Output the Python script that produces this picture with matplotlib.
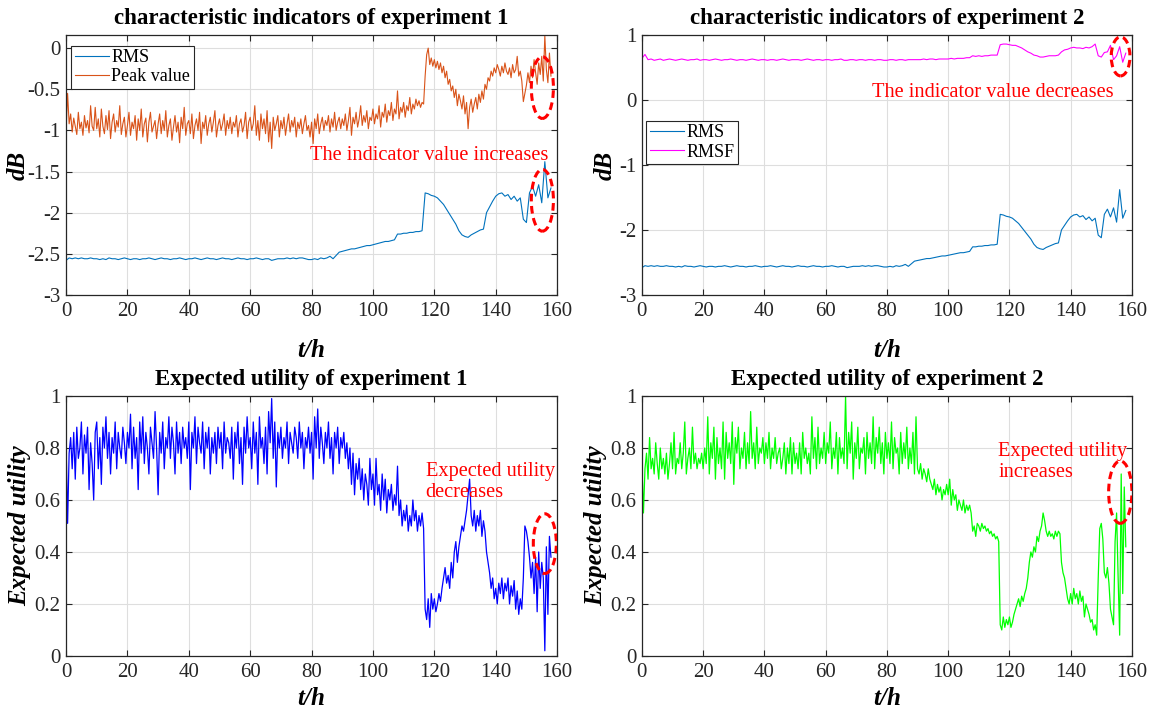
import matplotlib.pyplot as plt
import numpy as np
from matplotlib.patches import Ellipse

plt.rcParams['font.family'] = ['Liberation Serif', 'DejaVu Serif']
plt.rcParams['axes.unicode_minus'] = False

# sample times (hours)
t_half = np.arange(0, 158.5, 0.5)
t_hour = np.arange(0, 159, 1.0)

# RMS (same sensor in both experiments), 1 h steps
rms = [
    -2.58, -2.55, -2.56, -2.55, -2.56, -2.55, -2.56, -2.56, -2.55, -2.56,
    -2.56, -2.57, -2.56, -2.57, -2.55, -2.56, -2.56, -2.57, -2.56, -2.55,
    -2.56, -2.57, -2.56, -2.56, -2.57, -2.56, -2.56, -2.55, -2.56, -2.57,
    -2.56, -2.55, -2.56, -2.56, -2.57, -2.56, -2.56, -2.55, -2.56, -2.57,
    -2.56, -2.56, -2.55, -2.56, -2.57, -2.56, -2.55, -2.56, -2.56, -2.57,
    -2.56, -2.55, -2.56, -2.56, -2.57, -2.56, -2.55, -2.56, -2.56, -2.57,
    -2.56, -2.56, -2.55, -2.56, -2.57, -2.56, -2.56, -2.58, -2.57, -2.56,
    -2.56, -2.56, -2.55, -2.56, -2.55, -2.56, -2.55, -2.55, -2.56, -2.57,
    -2.57, -2.56, -2.57, -2.55, -2.56, -2.55, -2.53, -2.56, -2.52, -2.48,
    -2.47, -2.46, -2.45, -2.44, -2.44, -2.43, -2.42, -2.41, -2.40, -2.40,
    -2.39, -2.38, -2.37, -2.36, -2.35, -2.35, -2.34, -2.33, -2.26, -2.26,
    -2.25, -2.25, -2.24, -2.24, -2.23, -2.23, -2.22, -1.76, -1.77, -1.79,
    -1.80, -1.82, -1.86, -1.90, -1.96, -2.02, -2.08, -2.14, -2.22, -2.27,
    -2.29, -2.30, -2.27, -2.25, -2.23, -2.21, -2.20, -2.00, -1.93, -1.86,
    -1.80, -1.77, -1.76, -1.80, -1.78, -1.84, -1.80, -1.86, -1.82, -2.08,
    -2.12, -1.76, -1.68, -1.80, -1.66, -1.88, -1.38, -1.82, -1.70,
]

# RMSF of experiment 2, 1 h steps
rmsf = [
    0.64, 0.70, 0.62, 0.63, 0.61, 0.62, 0.63, 0.61, 0.62, 0.63,
    0.62, 0.61, 0.62, 0.63, 0.62, 0.61, 0.62, 0.62, 0.63, 0.61,
    0.62, 0.62, 0.61, 0.62, 0.63, 0.62, 0.61, 0.62, 0.62, 0.63,
    0.62, 0.61, 0.62, 0.62, 0.61, 0.62, 0.63, 0.62, 0.61, 0.62,
    0.62, 0.61, 0.62, 0.62, 0.61, 0.62, 0.63, 0.62, 0.61, 0.62,
    0.62, 0.62, 0.61, 0.62, 0.63, 0.62, 0.61, 0.62, 0.62, 0.61,
    0.62, 0.62, 0.61, 0.62, 0.62, 0.63, 0.61, 0.61, 0.62, 0.62,
    0.61, 0.62, 0.62, 0.61, 0.62, 0.62, 0.61, 0.62, 0.62, 0.61,
    0.61, 0.62, 0.62, 0.61, 0.62, 0.62, 0.61, 0.62, 0.62, 0.62,
    0.62, 0.62, 0.63, 0.62, 0.63, 0.63, 0.62, 0.63, 0.63, 0.63,
    0.63, 0.64, 0.63, 0.64, 0.64, 0.64, 0.65, 0.65, 0.68, 0.67,
    0.68, 0.67, 0.68, 0.68, 0.69, 0.69, 0.69, 0.85, 0.86, 0.86,
    0.85, 0.84, 0.84, 0.82, 0.80, 0.77, 0.74, 0.72, 0.69, 0.68,
    0.66, 0.66, 0.67, 0.68, 0.68, 0.68, 0.69, 0.74, 0.77, 0.78,
    0.80, 0.81, 0.80, 0.80, 0.79, 0.81, 0.80, 0.82, 0.86, 0.68,
    0.66, 0.73, 0.74, 0.84, 0.62, 0.68, 0.82, 0.58, 0.72,
]

# Peak value of experiment 1, 0.5 h steps
peak = [
    -1.00, -0.55, -0.92, -0.80, -1.02, -0.85, -0.95, -1.05, -0.78, -0.98, -0.90, -1.06, -0.82, -0.97, -0.88, -1.03, -0.70, -0.95, -1.00, -0.72,
    -0.98, -0.86, -1.08, -0.74, -0.95, -1.04, -0.82, -0.99, -0.76, -1.10, -0.90, -0.80, -1.02, -0.88, -0.96, -0.70, -1.05, -0.92, -0.84, -1.08,
    -0.94, -0.78, -1.06, -0.90, -0.98, -0.82, -1.12, -0.86, -1.00, -0.74, -1.08, -0.92, -0.85, -1.14, -0.90, -0.78, -1.02, -0.95, -0.88, -1.10,
    -0.92, -0.80, -1.04, -0.88, -1.00, -0.76, -1.08, -0.94, -0.86, -1.12, -0.96, -0.82, -1.02, -0.90, -1.15, -0.84, -0.98, -0.72, -1.06, -0.92,
    -0.88, -1.04, -0.80, -1.10, -0.94, -0.86, -1.00, -0.78, -1.16, -0.90, -0.98, -0.82, -1.06, -0.92, -0.84, -1.02, -0.90, -0.76, -1.08, -0.94,
    -0.86, -1.00, -0.92, -0.80, -1.06, -0.88, -0.98, -0.84, -1.04, -0.90, -0.96, -0.82, -1.08, -0.92, -0.86, -1.02, -0.94, -0.78, -1.10, -0.90,
    -0.84, -1.00, -0.92, -0.70, -1.06, -0.88, -1.12, -0.80, -0.98, -0.86, -1.04, -0.76, -1.14, -0.90, -1.22, -0.84, -1.00, -0.92, -0.82, -1.08,
    -0.88, -0.98, -0.84, -1.06, -0.92, -0.80, -1.02, -0.88, -0.96, -0.84, -1.08, -0.90, -0.98, -0.86, -1.04, -0.92, -0.82, -1.00, -0.94, -1.08,
    -0.90, -1.16, -0.86, -0.98, -0.80, -1.04, -0.92, -0.84, -1.00, -0.88, -0.94, -0.82, -1.02, -0.86, -0.96, -0.78, -1.00, -0.90, -0.84, -0.98,
    -0.86, -0.94, -0.80, -1.00, -0.88, -0.72, -1.06, -0.84, -0.92, -0.78, -0.96, -0.86, -0.70, -0.94, -0.82, -0.90, -0.76, -0.98, -0.84, -0.88,
    -0.74, -0.92, -0.80, -0.86, -0.70, -0.96, -0.78, -0.84, -0.68, -0.90, -0.76, -0.82, -0.66, -0.88, -0.74, -0.80, -0.52, -0.86, -0.72, -0.78,
    -0.66, -0.84, -0.70, -0.76, -0.60, -0.80, -0.68, -0.74, -0.62, -0.70, -0.64, -0.72, -0.66, -0.68, -0.34, -0.08, 0.00, -0.20, -0.12, -0.22,
    -0.14, -0.24, -0.16, -0.26, -0.18, -0.30, -0.22, -0.36, -0.28, -0.44, -0.38, -0.52, -0.46, -0.60, -0.50, -0.70, -0.56, -0.64, -0.74, -0.58,
    -0.80, -0.66, -0.98, -0.72, -0.62, -0.78, -0.68, -0.60, -0.74, -0.56, -0.66, -0.52, -0.62, -0.44, -0.50, -0.36, -0.40, -0.28, -0.34, -0.24,
    -0.30, -0.20, -0.26, -0.34, -0.22, -0.30, -0.18, -0.28, -0.32, -0.24, -0.36, -0.20, -0.30, -0.26, -0.10, -0.34, -0.28, -0.40, -0.65, -0.55,
    -0.45, -0.30, -0.42, -0.22, -0.36, -0.14, -0.30, -0.44, -0.18, -0.32, -0.10, -0.40, 0.15, -0.26, -0.42, -0.06, -0.34,
]

# expected utility, experiment 1, 0.5 h steps
eu1 = [
    0.82, 0.51, 0.78, 0.84, 0.72, 0.86, 0.68, 0.88, 0.76, 0.80, 0.90, 0.70, 0.85, 0.78, 0.88, 0.64, 0.82, 0.74, 0.60, 0.86,
    0.90, 0.72, 0.84, 0.66, 0.88, 0.80, 0.92, 0.76, 0.86, 0.70, 0.84, 0.78, 0.90, 0.72, 0.86, 0.80, 0.76, 0.88, 0.82, 0.74,
    0.86, 0.80, 0.93, 0.72, 0.88, 0.76, 0.84, 0.64, 0.90, 0.78, 0.92, 0.74, 0.86, 0.80, 0.70, 0.88, 0.82, 0.76, 0.94, 0.80,
    0.62, 0.86, 0.78, 0.90, 0.72, 0.84, 0.80, 0.92, 0.76, 0.88, 0.82, 0.70, 0.90, 0.78, 0.86, 0.74, 0.88, 0.80, 0.84, 0.76,
    0.90, 0.64, 0.86, 0.80, 0.92, 0.74, 0.88, 0.82, 0.78, 0.90, 0.72, 0.86, 0.80, 0.88, 0.70, 0.84, 0.78, 0.86, 0.74, 0.88,
    0.80, 0.86, 0.72, 0.90, 0.78, 0.84, 0.82, 0.76, 0.88, 0.68, 0.86, 0.80, 0.90, 0.74, 0.84, 0.66, 0.88, 0.78, 0.92, 0.80,
    0.84, 0.72, 0.90, 0.78, 0.86, 0.66, 0.92, 0.80, 0.84, 0.74, 0.88, 0.70, 0.94, 0.82, 0.99, 0.76, 0.90, 0.65, 0.86, 0.80,
    0.88, 0.76, 0.84, 0.80, 0.90, 0.74, 0.86, 0.82, 0.78, 0.88, 0.84, 0.76, 0.90, 0.80, 0.86, 0.72, 0.84, 0.80, 0.88, 0.78,
    0.86, 0.68, 0.92, 0.80, 0.95, 0.76, 0.88, 0.82, 0.74, 0.86, 0.80, 0.90, 0.76, 0.84, 0.70, 0.86, 0.80, 0.88, 0.74, 0.84,
    0.80, 0.86, 0.76, 0.82, 0.72, 0.80, 0.66, 0.78, 0.62, 0.74, 0.68, 0.76, 0.64, 0.72, 0.60, 0.70, 0.66, 0.58, 0.76, 0.64,
    0.70, 0.58, 0.76, 0.62, 0.66, 0.56, 0.70, 0.60, 0.68, 0.55, 0.64, 0.60, 0.66, 0.56, 0.62, 0.58, 0.73, 0.54, 0.60, 0.50,
    0.56, 0.52, 0.58, 0.48, 0.54, 0.50, 0.60, 0.52, 0.56, 0.48, 0.54, 0.50, 0.55, 0.49, 0.18, 0.14, 0.22, 0.11, 0.24, 0.18,
    0.22, 0.17, 0.20, 0.24, 0.21, 0.26, 0.30, 0.34, 0.28, 0.31, 0.26, 0.36, 0.30, 0.40, 0.44, 0.36, 0.42, 0.46, 0.50, 0.48,
    0.52, 0.56, 0.62, 0.68, 0.54, 0.50, 0.56, 0.48, 0.54, 0.50, 0.56, 0.46, 0.52, 0.48, 0.40, 0.36, 0.32, 0.26, 0.30, 0.22,
    0.26, 0.20, 0.28, 0.24, 0.30, 0.22, 0.28, 0.25, 0.30, 0.20, 0.27, 0.23, 0.29, 0.18, 0.25, 0.16, 0.22, 0.18, 0.30, 0.50,
    0.48, 0.44, 0.38, 0.30, 0.36, 0.24, 0.38, 0.17, 0.40, 0.26, 0.36, 0.30, 0.02, 0.42, 0.16, 0.46, 0.38,
]

# expected utility, experiment 2, 0.5 h steps
eu2 = [
    0.73, 0.55, 0.72, 0.78, 0.68, 0.84, 0.72, 0.76, 0.70, 0.82, 0.74, 0.68, 0.80, 0.72, 0.76, 0.70, 0.78, 0.68, 0.74, 0.82,
    0.72, 0.86, 0.70, 0.76, 0.74, 0.82, 0.72, 0.78, 0.90, 0.70, 0.76, 0.80, 0.72, 0.88, 0.74, 0.78, 0.72, 0.76, 0.74, 0.78,
    0.72, 0.80, 0.74, 0.92, 0.70, 0.82, 0.76, 0.88, 0.68, 0.84, 0.74, 0.80, 0.72, 0.90, 0.68, 0.86, 0.76, 0.82, 0.74, 0.90,
    0.66, 0.84, 0.78, 0.88, 0.72, 0.80, 0.76, 0.86, 0.72, 0.82, 0.74, 0.94, 0.76, 0.82, 0.72, 0.88, 0.74, 0.80, 0.78, 0.84,
    0.74, 0.82, 0.76, 0.86, 0.72, 0.80, 0.76, 0.84, 0.74, 0.78, 0.80, 0.72, 0.76, 0.82, 0.70, 0.80, 0.74, 0.84, 0.70, 0.82,
    0.74, 0.78, 0.72, 0.82, 0.70, 0.86, 0.76, 0.80, 0.74, 0.78, 0.70, 0.92, 0.76, 0.84, 0.72, 0.88, 0.74, 0.80, 0.76, 0.86,
    0.74, 0.82, 0.78, 0.90, 0.72, 0.80, 0.76, 0.86, 0.70, 0.84, 0.76, 0.80, 0.74, 1.00, 0.72, 0.86, 0.78, 0.90, 0.68, 0.82,
    0.76, 0.88, 0.72, 0.80, 0.78, 0.84, 0.70, 0.86, 0.76, 0.82, 0.74, 0.92, 0.72, 0.84, 0.78, 0.88, 0.74, 0.82, 0.70, 0.86,
    0.76, 0.82, 0.74, 0.90, 0.72, 0.84, 0.78, 0.80, 0.70, 0.86, 0.74, 0.82, 0.76, 0.88, 0.72, 0.80, 0.74, 0.86, 0.70, 0.92,
    0.72, 0.70, 0.74, 0.68, 0.72, 0.70, 0.67, 0.72, 0.68, 0.66, 0.64, 0.68, 0.62, 0.66, 0.63, 0.65, 0.60, 0.64, 0.62, 0.66,
    0.62, 0.68, 0.58, 0.64, 0.60, 0.62, 0.56, 0.60, 0.58, 0.56, 0.60, 0.55, 0.58, 0.56, 0.58, 0.55, 0.48, 0.50, 0.46, 0.51,
    0.50, 0.48, 0.51, 0.49, 0.50, 0.48, 0.49, 0.47, 0.48, 0.46, 0.47, 0.45, 0.46, 0.44, 0.12, 0.10, 0.15, 0.11, 0.14, 0.12,
    0.15, 0.11, 0.13, 0.16, 0.18, 0.20, 0.22, 0.19, 0.23, 0.21, 0.24, 0.26, 0.30, 0.36, 0.40, 0.38, 0.42, 0.40, 0.46, 0.44,
    0.48, 0.50, 0.55, 0.52, 0.48, 0.46, 0.48, 0.46, 0.47, 0.45, 0.48, 0.46, 0.48, 0.47, 0.36, 0.32, 0.30, 0.26, 0.22, 0.20,
    0.24, 0.20, 0.26, 0.22, 0.24, 0.20, 0.25, 0.21, 0.23, 0.15, 0.20, 0.18, 0.16, 0.13, 0.14, 0.10, 0.12, 0.08, 0.30, 0.49,
    0.51, 0.45, 0.32, 0.30, 0.34, 0.28, 0.18, 0.15, 0.12, 0.44, 0.55, 0.30, 0.08, 0.70, 0.24, 0.65, 0.42,
]

C_RMS = '#0072BD'
C_PEAK = '#D95319'

fig = plt.figure(figsize=(11.65, 7.09), dpi=100)
ax1 = fig.add_axes([0.0567, 0.584, 0.4215, 0.3667])
ax2 = fig.add_axes([0.551, 0.584, 0.4206, 0.3667])
ax3 = fig.add_axes([0.0567, 0.0748, 0.4215, 0.3667])
ax4 = fig.add_axes([0.551, 0.0748, 0.4206, 0.3667])


def style(ax, title, ylabel, ylab_x, xpad):
    ax.set_xlim(0, 160)
    ax.set_xticks(np.arange(0, 161, 20))
    ax.grid(True, color='#DEDEDE', linewidth=0.8)
    ax.set_axisbelow(True)
    ax.tick_params(direction='in', top=True, right=True, labelsize=15,
                   length=4, width=0.8, color='#262626', labelcolor='#262626')
    ax.tick_params(axis='x', pad=5)
    ax.tick_params(axis='y', pad=4)
    for s in ax.spines.values():
        s.set_color('#262626')
        s.set_linewidth(0.9)
    ax.set_title(title, fontsize=16.5, fontweight='bold', pad=8)
    ax.set_xlabel('t/h', fontsize=18, fontweight='bold', style='italic', labelpad=xpad)
    ax.set_ylabel(ylabel, fontsize=18, fontweight='bold', style='italic')
    ax.yaxis.set_label_coords(ylab_x, 0.5)


def oval(ax, x, y, w, h):
    ax.add_patch(Ellipse((x, y), w, h, fill=False, edgecolor='#FF0000',
                         linestyle=(0, (2.5, 1.5)), linewidth=2.2, zorder=5))


def legend(ax, anchor):
    leg = ax.legend(loc='upper left', bbox_to_anchor=anchor, borderaxespad=0,
                    fontsize=13, fancybox=False, framealpha=1, edgecolor='#262626',
                    handlelength=1.9, handletextpad=0.1, borderpad=0.2, labelspacing=0.12)
    leg.get_frame().set_linewidth(0.8)


# top left
ax1.plot(t_hour, rms, color=C_RMS, lw=0.8, label='RMS')
ax1.plot(t_half, peak, color=C_PEAK, lw=0.8, label='Peak value')
style(ax1, 'characteristic indicators of experiment 1', 'dB', -0.075, 13)
ax1.set_ylim(-3, 0.16)
ax1.set_yticks([-3, -2.5, -2, -1.5, -1, -0.5, 0])
ax1.set_yticklabels(['-3', '-2.5', '-2', '-1.5', '-1', '-0.5', '0'])
ax1.text(79.4, -1.31, 'The indicator value increases', color='#FF0000',
         fontsize=14.7, va='center', ha='left')
oval(ax1, 155.2, -0.48, 7.2, 0.75)
oval(ax1, 155.2, -1.85, 7.2, 0.75)
legend(ax1, (0.011, 0.959))

# top right
ax2.plot(t_hour, rms, color=C_RMS, lw=0.8, label='RMS')
ax2.plot(t_hour, rmsf, color='#FF00FF', lw=0.8, label='RMSF')
style(ax2, 'characteristic indicators of experiment 2', 'dB', -0.051, 13)
ax2.set_ylim(-3, 1)
ax2.set_yticks([-3, -2, -1, 0, 1])
ax2.text(75.2, 0.11, 'The indicator value decreases', color='#FF0000',
         fontsize=14.7, va='center', ha='left')
oval(ax2, 156.3, 0.67, 6.1, 0.6)
legend(ax2, (0.009, 0.67))

# bottom left
ax3.plot(t_half, eu1, color='#0000FF', lw=0.9)
style(ax3, 'Expected utility of experiment 1', 'Expected utility', -0.072, 4)
ax3.set_ylim(0, 1)
ax3.set_yticks([0, 0.2, 0.4, 0.6, 0.8, 1])
ax3.set_yticklabels(['0', '0.2', '0.4', '0.6', '0.8', '1'])
ax3.text(117.2, 0.67, 'Expected utility\ndecreases', color='#FF0000',
         fontsize=14.7, va='center', ha='left', linespacing=1.15)
oval(ax3, 156.0, 0.432, 7.5, 0.23)

# bottom right
ax4.plot(t_half, eu2, color='#00FF00', lw=0.9)
style(ax4, 'Expected utility of experiment 2', 'Expected utility', -0.071, 4)
ax4.set_ylim(0, 1)
ax4.set_yticks([0, 0.2, 0.4, 0.6, 0.8, 1])
ax4.set_yticklabels(['0', '0.2', '0.4', '0.6', '0.8', '1'])
ax4.text(116.4, 0.747, 'Expected utility\nincreases', color='#FF0000',
         fontsize=14.7, va='center', ha='left', linespacing=1.15)
oval(ax4, 156.2, 0.63, 7.6, 0.24)

fig.savefig('out.png', dpi=100)
